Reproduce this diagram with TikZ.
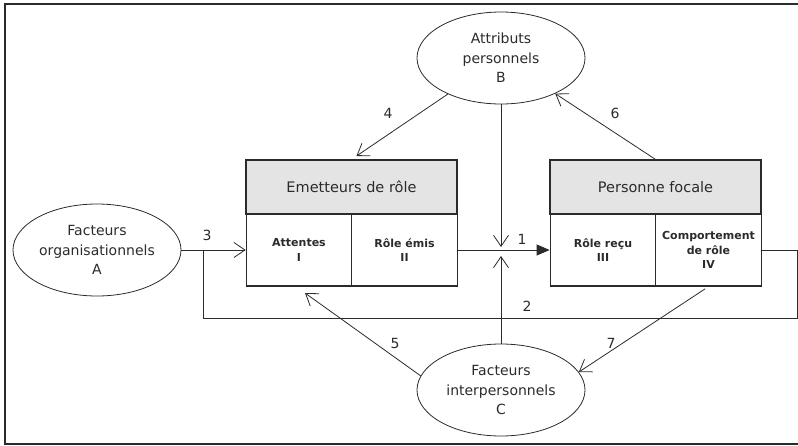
\documentclass[tikz,border=0pt]{standalone}
\usepackage{fontspec}
\setmainfont{DejaVu Sans}
\usetikzlibrary{arrows.meta,shapes.geometric}
\definecolor{ink}{HTML}{2B2B2B}
\definecolor{headfill}{HTML}{E4E4E4}
\tikzset{
  frame/.style={draw=ink, line width=1.3pt},
  oval/.style={ellipse, draw=ink, line width=0.8pt, inner sep=0pt, minimum width=168pt, minimum height=92pt, align=center, font=\fontsize{14}{19.5}\selectfont, text=ink},
  head/.style={rectangle, draw=ink, line width=1.2pt, fill=headfill, inner sep=0pt, minimum width=211pt, minimum height=54pt, font=\fontsize{14.5}{17}\selectfont, text=ink},
  cell/.style={rectangle, draw=ink, line width=1.2pt, inner sep=0pt, minimum width=105.5pt, minimum height=72pt, align=center, font=\fontsize{11}{14.5}\selectfont\bfseries, text=ink},
  conn/.style={draw=ink, line width=0.8pt},
  openarrow/.style={conn, -{Straight Barb[length=11pt,width=15pt]}},
  fillarrow/.style={conn, -{Triangle[length=13pt,width=11pt]}},
  num/.style={font=\fontsize{14}{16}\selectfont, text=ink, inner sep=0pt}
}
\begin{document}
\begin{tikzpicture}[x=1pt,y=-1pt]
\useasboundingbox (0,0) rectangle (798,445);
\draw[frame] (798,4) -- (5,4) -- (5,444) -- (798,444);

% ellipses
\node[oval] (A) at (97,250) {Facteurs\\organisationnels\\A};
\node[oval] (B) at (501,58) {Attributs\\personnels\\B};
\node[oval] (C) at (501,390) {Facteurs\\interpersonnels\\C};

% Emetteurs de rôle
\node[head] (ehead) at (351.5,187) {Emetteurs de rôle};
\node[cell] (att) at (299,250) {Attentes\\I};
\node[cell] (emis) at (404.5,250) {Rôle émis\\II};

% Personne focale
\node[head] (phead) at (655.5,187) {Personne focale};
\node[cell] (recu) at (603,250) {Rôle reçu\\III};
\node[cell] (comp) at (708.5,250) {Comportement\\de rôle\\IV};

% junction coordinates
\coordinate (tipB) at (501,247);
\coordinate (tipC) at (501,256);
\coordinate (j3) at (203,250);
\coordinate (j2) at (203,318);
\coordinate (t5) at (305,293);

% connectors
\draw[fillarrow] (emis.east) -- (recu.west);
\draw[openarrow] (B.south) -- (tipB);
\draw[openarrow] (C.north) -- (tipC);
\draw[openarrow] (A.east) -- (att.west);
\draw[conn] (comp.east) -- ++(36,0) |- (j2) -- (j3);
\draw[openarrow, shorten >=6pt] (B) -- (ehead.north);
\draw[openarrow] (phead.north) -- (B);
\draw[openarrow] (C.170) -- (t5);
\draw[openarrow, shorten <=4pt] (comp.south) -- (C.13);

% labels
\node[num] (n1) at (522,239) {1};
\node[num] (n2) at (527,306) {2};
\node[num] (n3) at (207,235) {3};
\node[num] (n4) at (388,113) {4};
\node[num] (n5) at (395,343) {5};
\node[num] (n6) at (615,113) {6};
\node[num] (n7) at (611,343) {7};
\end{tikzpicture}
\end{document}
